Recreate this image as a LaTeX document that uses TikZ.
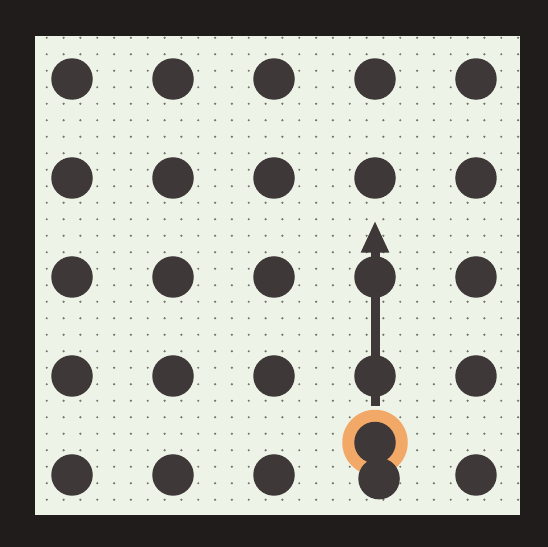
\documentclass[tikz,border=0pt]{standalone}
\usetikzlibrary{arrows.meta}
\definecolor{framecol}{HTML}{201C1C}
\definecolor{papercol}{HTML}{EEF3E7}
\definecolor{pegcol}{HTML}{3E3838}
\definecolor{dotcol}{HTML}{76766C}
\definecolor{ringcol}{HTML}{F2A866}
\begin{document}
\begin{tikzpicture}[x=2.02cm,y=1.98cm,
    peg/.style={circle,fill=pegcol,minimum size=0.83cm,inner sep=0pt},
    ring/.style={circle,fill=ringcol,minimum size=1.31cm,inner sep=0pt}]
    \useasboundingbox (-0.713,-0.727) rectangle (4.713,4.798);
    \fill[framecol] (-0.713,-0.727) rectangle (4.713,4.798);
    \fill[papercol] (-0.366,-0.404) rectangle (4.436,4.434);
    % dotted grid
    \foreach \i in {-2,...,26}
      \foreach \j in {-2,...,26}
        \fill[dotcol] ({(2*\i+1)/12},{(2*\j+1)/12}) circle (0.7pt);
    % pegs
    \foreach \i in {0,...,4}
      \foreach \j in {1,...,4}
        \node[peg] (p-\i-\j) at (\i,\j) {};
    \foreach \i in {0,1,2,4}
      \node[peg] (p-\i-0) at (\i,0) {};
    % the moved peg
    \node[ring] (halo) at (3,0.328) {};
    \node[peg] (moved) at (3,0.328) {};
    \node[peg] (p-3-0) at (3.04,-0.037) {};
    % direction
    \coordinate (tail) at (3,0.70);
    \coordinate (tip) at (3,2.57);
    \draw[pegcol,line width=0.18cm,-{Triangle[length=0.64cm,width=0.52cm]}] (tail) -- (tip);
\end{tikzpicture}
\end{document}
